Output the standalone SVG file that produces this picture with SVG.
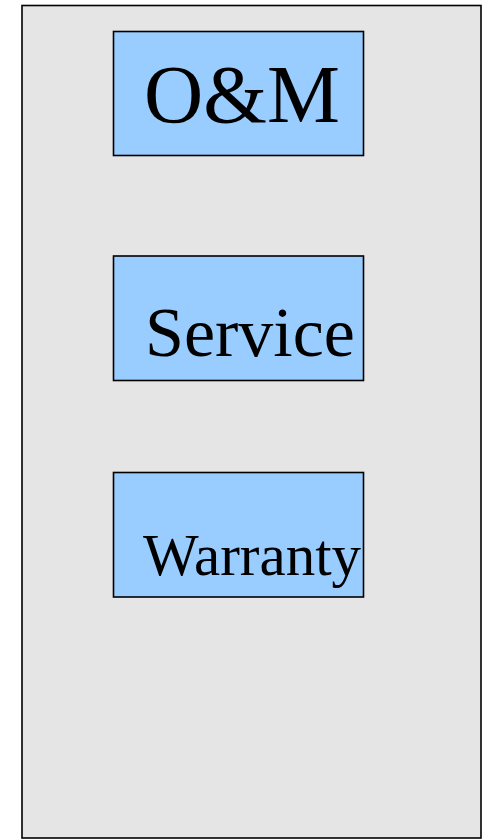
<svg xmlns="http://www.w3.org/2000/svg" width="485" height="840" viewBox="0 0 485 840">
<style>
.frame{fill:#e5e5e5;stroke:#000;stroke-width:1.6}
.box{fill:#99ccff;stroke:#000;stroke-width:1.6}
.lbl{font-family:"Liberation Serif","Times New Roman",serif;fill:#000}
</style>
<g id="container"><rect class="frame" x="22" y="5.5" width="459" height="832.5"/></g>
<g id="om"><rect class="box" x="113.5" y="31.5" width="250" height="124"/><text class="lbl" x="144" y="122" font-size="82">O&amp;M</text></g>
<g id="service"><rect class="box" x="113.5" y="256" width="250" height="124.5"/><text class="lbl" x="145" y="356" font-size="70">Service</text></g>
<g id="warranty"><rect class="box" x="113.5" y="472.5" width="250" height="124.5"/><text class="lbl" x="143" y="575" font-size="59">Warranty</text></g>
<g id="connectors"/>
</svg>
